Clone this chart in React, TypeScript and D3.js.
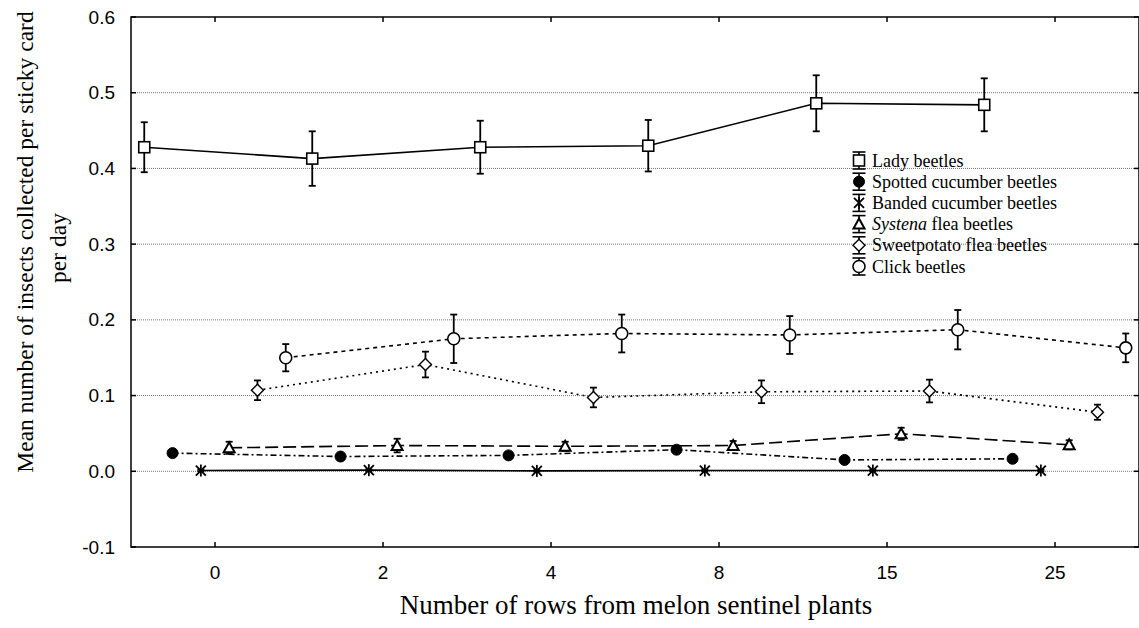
import React from "react";
import * as d3 from "d3";

const categories = ["0", "2", "4", "8", "15", "25"];
const seriesNames = [
  "Lady beetles",
  "Spotted cucumber beetles",
  "Banded cucumber beetles",
  "Systena flea beetles",
  "Sweetpotato flea beetles",
  "Click beetles",
];
const ladyMeans = [0.428, 0.413, 0.428, 0.43, 0.486, 0.484];
const ladyErr = [0.033, 0.036, 0.035, 0.034, 0.037, 0.035];
const spottedMeans = [0.024, 0.0195, 0.021, 0.0285, 0.015, 0.0165];
const spottedErr = [0.003, 0.003, 0.003, 0.003, 0.003, 0.003];
const bandedMeans = [0.001, 0.0015, 0.0005, 0.001, 0.001, 0.001];
const bandedErr = [0.001, 0.001, 0.001, 0.001, 0.001, 0.001];
const systenaMeans = [0.031, 0.034, 0.033, 0.034, 0.0495, 0.035];
const systenaErr = [0.008, 0.009, 0.006, 0.006, 0.008, 0.006];
const sweetMeans = [0.107, 0.141, 0.0975, 0.105, 0.106, 0.078];
const sweetErr = [0.013, 0.017, 0.013, 0.015, 0.015, 0.01];
const clickMeans = [0.15, 0.175, 0.182, 0.18, 0.187, 0.163];
const clickErr = [0.018, 0.032, 0.025, 0.025, 0.026, 0.019];
const yTicks = [-0.1, 0.0, 0.1, 0.2, 0.3, 0.4, 0.5, 0.6];
const yTickLabels = ["-0.1", "0.0", "0.1", "0.2", "0.3", "0.4", "0.5", "0.6"];
const gridValues = [0.0, 0.1, 0.2, 0.3, 0.4, 0.5];

const seriesMeans = [ladyMeans, spottedMeans, bandedMeans, systenaMeans, sweetMeans, clickMeans];
const seriesErrs = [ladyErr, spottedErr, bandedErr, systenaErr, sweetErr, clickErr];
const seriesDash = ["", "6,3,2,3", "", "13,5", "2,4", "4,4"];
const seriesMarker = ["square", "filledCircle", "asterisk", "triangle", "diamond", "circle"];

const W = 1139;
const H = 628;
const left = 131;
const right = 1139;
const top = 17;
const bottom = 547;

const SERIF = "'Liberation Serif', 'Times New Roman', serif";
const SANS = "'Liberation Sans', Arial, sans-serif";

function Marker({ type, x, y }: { type: string; x: number; y: number }) {
  const sw = 1.6;
  switch (type) {
    case "square":
      return <rect x={x - 5.5} y={y - 5.5} width={11} height={11} fill="#fff" stroke="#000" strokeWidth={sw} />;
    case "filledCircle":
      return <circle cx={x} cy={y} r={5.5} fill="#000" stroke="#000" strokeWidth={1} />;
    case "asterisk":
      return (
        <g stroke="#000" strokeWidth={1.8}>
          <line x1={x} y1={y - 6} x2={x} y2={y + 6} />
          <line x1={x - 5} y1={y - 5} x2={x + 5} y2={y + 5} />
          <line x1={x - 5} y1={y + 5} x2={x + 5} y2={y - 5} />
        </g>
      );
    case "triangle":
      return (
        <path
          d={`M${x},${y - 5.5}L${x + 5.5},${y + 4.5}L${x - 5.5},${y + 4.5}Z`}
          fill="#fff"
          stroke="#000"
          strokeWidth={2}
        />
      );
    case "diamond":
      return (
        <path
          d={`M${x},${y - 6}L${x + 6},${y}L${x},${y + 6}L${x - 6},${y}Z`}
          fill="#fff"
          stroke="#000"
          strokeWidth={1.4}
        />
      );
    case "circle":
    default:
      return <circle cx={x} cy={y} r={6} fill="#fff" stroke="#000" strokeWidth={1.6} />;
  }
}

export default function App() {
  const x = d3.scaleBand<string>().domain(categories).range([left, right]).padding(0);
  const offset = d3.scalePoint<string>().domain(seriesNames).range([-70.75, 70.75]);
  const y = d3.scaleLinear().domain([-0.1, 0.6]).range([bottom, top]);

  const cx = (c: string, s: string) => (x(c) as number) + x.bandwidth() / 2 + (offset(s) as number);

  const line = d3
    .line<[number, number]>()
    .x((d) => d[0])
    .y((d) => d[1]);

  return (
    <svg
      width={W}
      height={H}
      style={{ position: "absolute", left: 0, top: 0, display: "block", background: "#fff" }}
    >
      <rect x={0} y={0} width={W} height={H} fill="#fff" />
      {gridValues.map((v) => (
        <line
          key={"g" + v}
          x1={left}
          x2={right}
          y1={y(v)}
          y2={y(v)}
          stroke="#777"
          strokeWidth={1}
          strokeDasharray="1,1"
        />
      ))}
      <rect x={left} y={top} width={right - left} height={bottom - top} fill="none" stroke="#000" strokeWidth={1.5} />
      {yTicks.map((v, i) => (
        <g key={"yt" + v}>
          <line x1={left} x2={left + 5} y1={y(v)} y2={y(v)} stroke="#000" strokeWidth={1.5} />
          <line x1={right - 5} x2={right} y1={y(v)} y2={y(v)} stroke="#000" strokeWidth={1.5} />
          <text
            x={left - 16}
            y={y(v)}
            textAnchor="end"
            dominantBaseline="central"
            fontFamily={SANS}
            fontSize={19}
            fill="#000"
          >
            {yTickLabels[i]}
          </text>
        </g>
      ))}
      {categories.map((c) => {
        const px = (x(c) as number) + x.bandwidth() / 2;
        return (
          <g key={"xt" + c}>
            <line x1={px} x2={px} y1={bottom} y2={bottom - 5} stroke="#000" strokeWidth={1.5} />
            <line x1={px} x2={px} y1={top} y2={top + 5} stroke="#000" strokeWidth={1.5} />
            <text x={px} y={579} textAnchor="middle" fontFamily={SANS} fontSize={19} fill="#000">
              {c}
            </text>
          </g>
        );
      })}
      {seriesNames.map((s, si) => {
        const pts: [number, number][] = categories.map((c, ci) => [cx(c, s), y(seriesMeans[si][ci])]);
        return (
          <path
            key={"l" + s}
            d={line(pts) as string}
            fill="none"
            stroke="#000"
            strokeWidth={1.6}
            strokeDasharray={seriesDash[si] || undefined}
          />
        );
      })}
      {seriesNames.map((s, si) =>
        categories.map((c, ci) => {
          const px = cx(c, s);
          const m = seriesMeans[si][ci];
          const e = seriesErrs[si][ci];
          const y1 = y(m + e);
          const y2 = y(m - e);
          return (
            <g key={"e" + s + c} stroke="#000" strokeWidth={1.8}>
              <line x1={px} x2={px} y1={y1} y2={y2} />
              <line x1={px - 3.5} x2={px + 3.5} y1={y1} y2={y1} />
              <line x1={px - 3.5} x2={px + 3.5} y1={y2} y2={y2} />
            </g>
          );
        })
      )}
      {seriesNames.map((s, si) =>
        categories.map((c, ci) => (
          <Marker key={"m" + s + c} type={seriesMarker[si]} x={cx(c, s)} y={y(seriesMeans[si][ci])} />
        ))
      )}
      {seriesNames.map((s, si) => {
        const ly = 160.5 + si * 21.2;
        const lx = 859;
        return (
          <g key={"lg" + s}>
            <g stroke="#000" strokeWidth={1.6}>
              <line x1={lx} x2={lx} y1={ly - 8.5} y2={ly + 8.5} />
              <line x1={lx - 6.5} x2={lx + 6.5} y1={ly - 8.5} y2={ly - 8.5} />
              <line x1={lx - 6.5} x2={lx + 6.5} y1={ly + 8.5} y2={ly + 8.5} />
            </g>
            <Marker type={seriesMarker[si]} x={lx} y={ly} />
            <text x={872} y={ly} dominantBaseline="central" fontFamily={SERIF} fontSize={18} fill="#000">
              {si === 3 ? (
                <>
                  <tspan fontStyle="italic">Systena</tspan>
                  <tspan> flea beetles</tspan>
                </>
              ) : (
                s
              )}
            </text>
          </g>
        );
      })}
      <text x={636} y={614} textAnchor="middle" fontFamily={SERIF} fontSize={27} fill="#000">
        Number of rows from melon sentinel plants
      </text>
      <g transform="translate(25,242) rotate(-90)">
        <text x={0} y={0} textAnchor="middle" dominantBaseline="central" fontFamily={SERIF} fontSize={23.5} fill="#000">
          Mean number of insects collected per sticky card
        </text>
      </g>
      <g transform="translate(58,248) rotate(-90)">
        <text x={0} y={0} textAnchor="middle" dominantBaseline="central" fontFamily={SERIF} fontSize={23.5} fill="#000">
          per day
        </text>
      </g>
    </svg>
  );
}
